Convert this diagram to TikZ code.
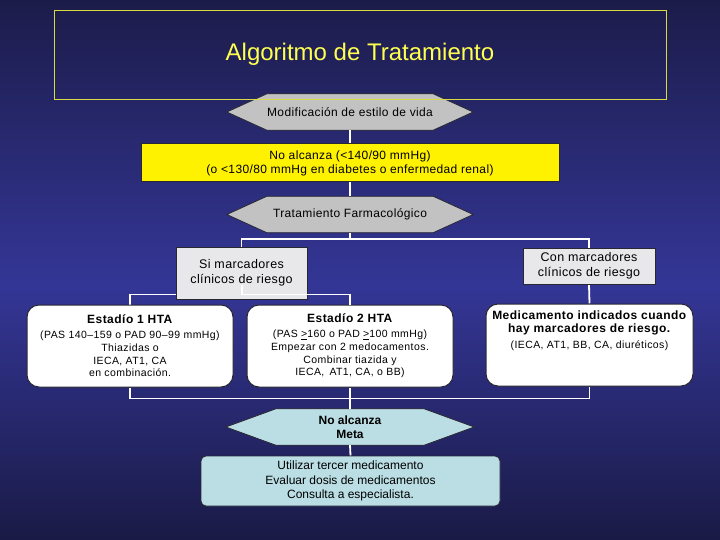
\documentclass[tikz,border=0pt]{standalone}
\usepackage{fontspec}
\setmainfont{Liberation Sans}
\newfontfamily\spacedfont[LetterSpace=4]{Liberation Sans}
\newfontfamily\hexfont[LetterSpace=3]{Liberation Sans}
\usetikzlibrary{calc,backgrounds}
\pgfdeclarelayer{bgshade}
\pgfsetlayers{bgshade,background,main}
\definecolor{bgtop}{RGB}{28,28,74}
\definecolor{bgmid}{RGB}{52,54,150}
\definecolor{bgbot}{RGB}{26,26,70}
\definecolor{hexgray}{RGB}{194,194,194}
\definecolor{boxgray}{RGB}{232,232,234}
\definecolor{cyanfill}{RGB}{186,222,228}
\definecolor{titleyellow}{RGB}{255,255,80}
\definecolor{edgedark}{RGB}{40,40,50}
\tikzset{
  titlebox/.style={draw=titleyellow!85!black, line width=0.8pt, text=titleyellow,
    minimum width=612pt, minimum height=89pt, inner sep=0pt,
    font=\fontsize{24}{28}\selectfont},
  hexlabel/.style={minimum width=246pt, minimum height=36pt, inner sep=0pt, align=center,
    font=\hexfont\fontsize{12}{14}\selectfont},
  hexpath/.style={draw=edgedark, line width=0.8pt},
  yelbox/.style={fill=yellow, draw=edgedark, line width=1pt, minimum width=418pt,
    minimum height=38pt, inner sep=0pt, align=center,
    font=\hexfont\fontsize{12}{14}\selectfont},
  graybox/.style={fill=boxgray, draw=edgedark, line width=0.8pt,
    inner sep=0pt, align=center, font=\hexfont\fontsize{12.5}{15}\selectfont},
  wbox/.style={fill=white, draw=edgedark, line width=1pt, rounded corners=12pt,
    minimum width=206pt, minimum height=82pt, inner sep=0pt, align=center,
    font=\spacedfont\fontsize{10.5}{12.7}\selectfont},
  finbox/.style={fill=cyanfill, draw=edgedark, line width=0.8pt, rounded corners=5pt,
    minimum width=299pt, minimum height=50pt, inner sep=0pt, align=center,
    font=\fontsize{12}{14.5}\selectfont},
  conn/.style={draw=white, line width=1.8pt},
}
\newcommand{\hexdraw}[3]{%
  \path[hexpath, fill=#2] (#1.west) -- ($(#1.north west)+(#3,0)$) -- ($(#1.north east)+(-#3,0)$)
    -- (#1.east) -- ($(#1.south east)+(-#3,0)$) -- ($(#1.south west)+(#3,0)$) -- cycle;}
\begin{document}
\begin{tikzpicture}[x=1pt,y=-1pt]
\useasboundingbox (0,0) rectangle (720,540);
\begin{pgfonlayer}{bgshade}
\shade[top color=bgtop, bottom color=bgmid] (0,0) rectangle (720,285);
\shade[top color=bgmid, bottom color=bgbot] (0,284.5) rectangle (720,540);
\end{pgfonlayer}

\node[titlebox] (title) at (360,54.5) {Algoritmo de Tratamiento};

\node[hexlabel] (h1) at (350,112) {Modificación de estilo de vida};
\node[yelbox] (yel) at (350,163) {No alcanza (<140/90 mmHg)\\(o <130/80 mmHg en diabetes o enfermedad renal)};
\node[hexlabel] (h2) at (350,214.5) {Tratamiento Farmacológico};

\node[graybox, minimum width=131pt, minimum height=52pt] (si) at (241.5,273) {Si marcadores\\clínicos de riesgo};
\node[graybox, minimum width=132pt, minimum height=36pt] (con) at (589,266) {Con marcadores\\clínicos de riesgo};

\node[wbox] (e1) at (130,346) {\textbf{\fontsize{12}{13}\selectfont Estadío 1 HTA}\\[2pt](PAS 140–159 o PAD 90–99 mmHg)\\Thiazidas o\\IECA, AT1, CA\\en combinación.};
\node[wbox] (e2) at (350,346) {\textbf{\fontsize{12}{13}\selectfont Estadío 2 HTA}\\[2pt](PAS \underline{>}160 o PAD \underline{>}100 mmHg)\\Empezar con 2 medocamentos.\\Combinar tiazida y\\IECA,\, AT1, CA, o BB)};
\node[wbox, minimum width=207pt] (med) at (589.5,345) {};
\node[anchor=north, align=center, inner sep=0pt, font=\spacedfont\fontsize{10.5}{12.7}\selectfont] (medtxt) at ($(med.north)+(0,7)$)
  {\textbf{\fontsize{12}{14}\selectfont Medicamento indicados cuando}\\\textbf{\fontsize{12}{14}\selectfont hay marcadores de riesgo.}\\[4pt](IECA, AT1, BB, CA, diuréticos)};

\node[hexlabel, minimum width=248pt, font=\bfseries\fontsize{12}{14}\selectfont] (h3) at (350,427) {No alcanza\\Meta};
\node[finbox] (fin) at (350.5,481) {Utilizar tercer medicamento\\Evaluar dosis de medicamentos\\Consulta a especialista.};

\coordinate (br1) at (350,239);
\coordinate (sistem) at (242,285);

\draw[conn] (sistem) -- ++(0,9.5) -| (e2.north);

\begin{pgfonlayer}{background}
\hexdraw{h1}{hexgray}{40}
\hexdraw{h2}{hexgray}{40}
\hexdraw{h3}{cyanfill}{50}
\draw[conn] (h1.south) -- (yel.north);
\draw[conn] (yel.south) -- (h2.north);
\draw[conn] (h2.south) -- (br1);
\draw[conn] (br1) -| (si.north);
\draw[conn] (br1) -| (con.north);
\draw[conn] (si.west |- 0,294.5) -| (e1.north);
\draw[conn] (con.south) -- (med.north);
\draw[conn] (e1.south) -- ++(0,11) -| (med.south);
\draw[conn] (e2.south) -- (h3.north);
\draw[conn] (h3.south) -- (fin.north);
\end{pgfonlayer}
\end{tikzpicture}
\end{document}
